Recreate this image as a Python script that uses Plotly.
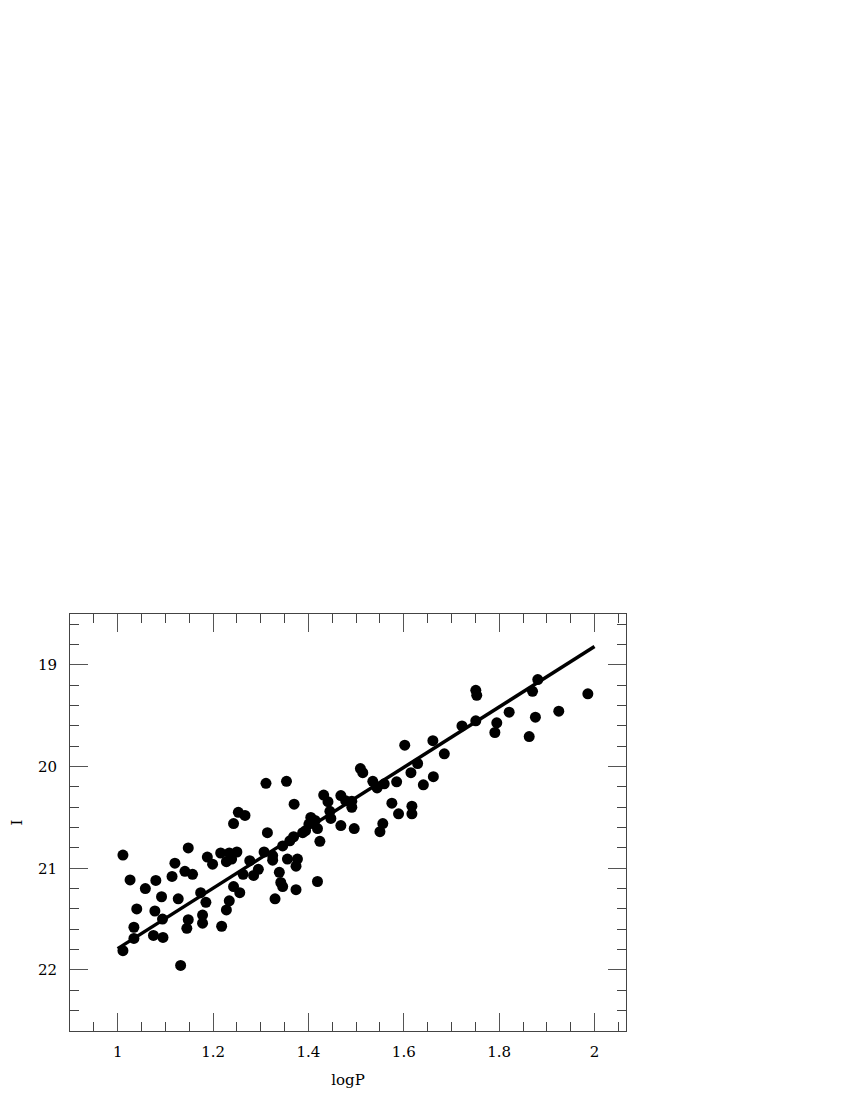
import plotly.graph_objects as go

logP = [1.011, 1.011, 1.026, 1.034, 1.034, 1.040, 1.058, 1.080, 1.078, 1.075,
        1.092, 1.094, 1.095, 1.120, 1.114, 1.127, 1.132, 1.145, 1.148, 1.141,
        1.148, 1.157, 1.174, 1.185, 1.178, 1.178, 1.188, 1.199, 1.218, 1.216,
        1.228, 1.234, 1.228, 1.234, 1.239, 1.243, 1.243, 1.250, 1.253, 1.256,
        1.267, 1.263, 1.277, 1.285, 1.295, 1.307, 1.311, 1.314, 1.325, 1.325,
        1.330, 1.339, 1.342, 1.346, 1.354, 1.356, 1.377, 1.374, 1.374, 1.370,
        1.346, 1.361, 1.369, 1.388, 1.394, 1.401, 1.405, 1.414, 1.419, 1.424,
        1.419, 1.432, 1.441, 1.445, 1.447, 1.468, 1.478, 1.491, 1.491, 1.468,
        1.496, 1.509, 1.514, 1.535, 1.544, 1.559, 1.556, 1.550, 1.575, 1.585,
        1.589, 1.602, 1.615, 1.617, 1.617, 1.629, 1.641, 1.661, 1.662, 1.685,
        1.722, 1.751, 1.753, 1.751, 1.795, 1.791, 1.821, 1.863, 1.870, 1.876,
        1.881, 1.925, 1.986]
I_mag = [20.87, 21.81, 21.115, 21.58, 21.69, 21.40, 21.20, 21.12, 21.42, 21.66,
         21.28, 21.50, 21.68, 20.95, 21.08, 21.30, 21.955, 21.59, 21.505, 21.03,
         20.80, 21.06, 21.24, 21.335, 21.46, 21.54, 20.89, 20.96, 21.57, 20.85,
         21.41, 21.32, 20.935, 20.85, 20.91, 21.18, 20.56, 20.84, 20.45, 21.24,
         20.48, 21.06, 20.925, 21.07, 21.01, 20.84, 20.165, 20.65, 20.92, 20.875,
         21.30, 21.04, 21.14, 21.18, 20.145, 20.91, 20.91, 20.98, 21.21, 20.37,
         20.78, 20.73, 20.69, 20.65, 20.63, 20.565, 20.50, 20.53, 20.61, 20.735,
         21.13, 20.28, 20.345, 20.44, 20.51, 20.285, 20.335, 20.34, 20.40, 20.58,
         20.61, 20.02, 20.06, 20.145, 20.21, 20.17, 20.56, 20.64, 20.36, 20.15,
         20.465, 19.79, 20.06, 20.39, 20.465, 19.97, 20.18, 19.745, 20.10, 19.875,
         19.60, 19.25, 19.30, 19.55, 19.57, 19.665, 19.465, 19.705, 19.26, 19.515,
         19.145, 19.455, 19.285]

fit_x = [1.0, 2.0]
fit_y = [21.79, 18.82]

fig = go.Figure()
fig.add_trace(go.Scatter(x=logP, y=I_mag, mode="markers",
                         marker=dict(color="black", size=11, line=dict(width=0)),
                         showlegend=False))
fig.add_trace(go.Scatter(x=fit_x, y=fit_y, mode="lines",
                         line=dict(color="black", width=3.5), showlegend=False))

font = dict(family="DejaVu Serif", size=15, color="black")
axis_common = dict(showgrid=False, zeroline=False, showline=True, linecolor="#444",
                   linewidth=1, mirror="ticks", ticks="inside", tickcolor="#555",
                   tickwidth=1, ticklen=18, tickfont=font, automargin=False)

fig.update_layout(
    width=850, height=1100,
    paper_bgcolor="white", plot_bgcolor="white",
    margin=dict(l=62, r=232, t=606, b=77),
    font=font,
    xaxis=dict(range=[0.9, 2.066], tick0=1, dtick=0.2,
               minor=dict(dtick=0.05, ticks="inside", ticklen=9, tickcolor="#444"),
               title=dict(text="logP", font=font, standoff=14),
               ticklabelstandoff=7, **axis_common),
    yaxis=dict(range=[22.6, 18.5], tick0=19, dtick=1,
               minor=dict(dtick=0.2, ticks="inside", ticklen=9, tickcolor="#444"),
               title=dict(text="I", font=font, standoff=36),
               ticklabelstandoff=9, **axis_common),
)

fig.write_html("out.html")
